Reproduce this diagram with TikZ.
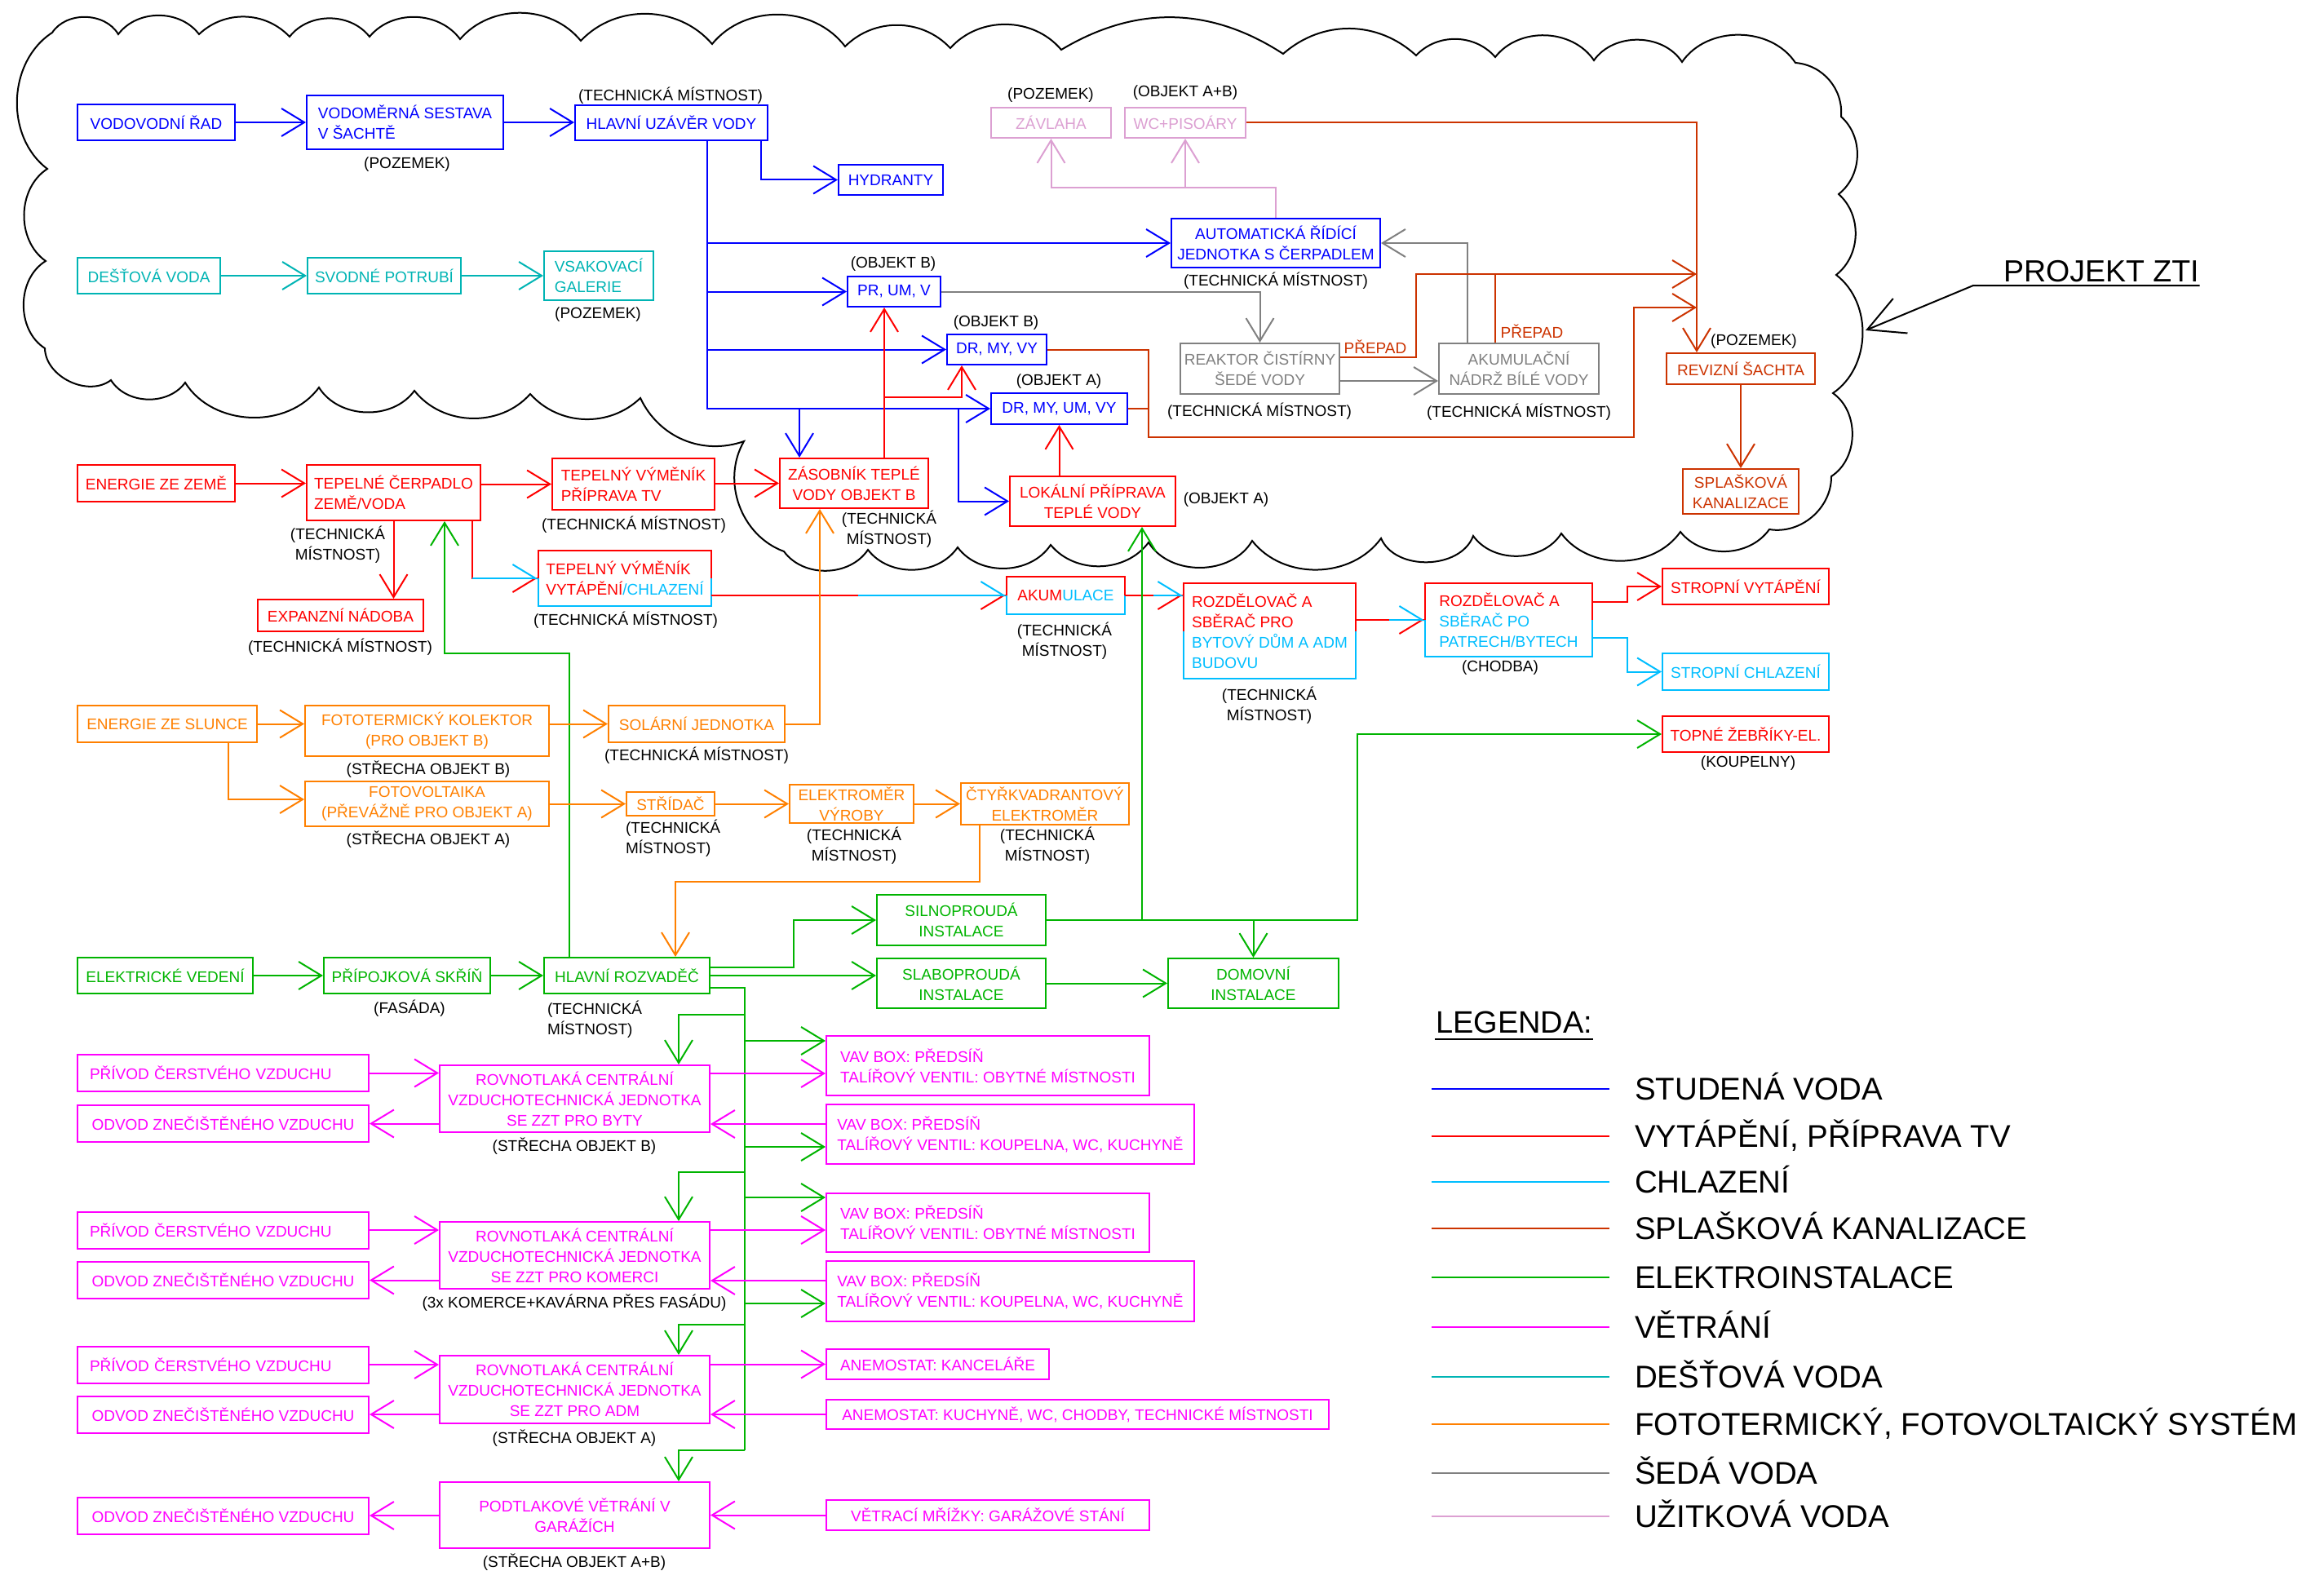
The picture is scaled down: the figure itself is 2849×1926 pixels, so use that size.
\documentclass[tikz,border=0pt]{standalone}
\usepackage{fontspec}
\setmainfont{Liberation Sans}
\usepackage{xcolor}
\usepackage{tikz}
\usetikzlibrary{positioning,arrows.meta}

\definecolor{cBlue}{RGB}{0,0,255}
\definecolor{cRed}{RGB}{255,0,0}
\definecolor{cCyan}{RGB}{0,190,255}
\definecolor{cSew}{RGB}{204,51,0}
\definecolor{cGreen}{RGB}{0,180,0}
\definecolor{cMag}{RGB}{255,0,255}
\definecolor{cRain}{RGB}{0,180,180}
\definecolor{cOrange}{RGB}{255,128,0}
\definecolor{cGray}{RGB}{128,128,128}
\definecolor{cLav}{RGB}{220,160,210}

\begin{document}
\begin{tikzpicture}[x=1pt, y=-1pt, line width=2pt,
  >={Straight Barb[length=28pt,width=34pt]},
  box/.style={draw, rectangle, inner xsep=4pt, inner ysep=1pt, align=center, font=\fontsize{19}{25}\selectfont},
  lbox/.style={box, align=left},
  lbl/.style={inner sep=0pt, align=center, font=\fontsize{19}{25}\selectfont},
  upper/.style={-{Straight Barb[length=28pt,width=34pt,left]}},
  lower/.style={-{Straight Barb[length=28pt,width=34pt,right]}},
  big/.style={inner sep=0pt, font=\fontsize{38.5}{44}\selectfont}]

\fill[white] (0,0) rectangle (2849,1926);
\useasboundingbox (0,0) rectangle (2849,1926);

% oblak
\draw[black] (64,40) to[bend left=58] (145,42) to[bend left=53] (244,42)
  to[bend left=45] (355,45) to[bend left=52] (453,45) to[bend left=52] (564,48)
  to[bend left=50] (712,50) to[bend left=48] (873,54) to[bend left=52] (1036,57)
  to[bend left=46] (1165,59) to[bend left=49] (1301,61) to[bend left=32] (1573,66)
  to[bend left=42] (1736,68) to[bend left=48] (1833,70) to[bend left=54] (1954,74)
  to[bend left=56] (2062,76) to[bend left=56] (2201,77) to[bend left=45] (2257,143)
  to[bend left=50] (2254,238) to[bend left=50] (2251,337) to[bend left=54] (2247,482)
  to[bend left=56] (2245,584) to[bend left=50] (2169,649) to[bend left=53] (2060,652)
  to[bend left=54] (1914,654) to[bend left=56] (1806,657) to[bend left=68] (1693,660)
  to[bend left=53] (1535,663) to[bend left=59] (1408,665) to[bend left=52] (1288,668)
  to[bend left=55] (1174,671) to[bend left=54] (1064,674) to[bend left=55] (961,676)
  to[bend left=50] (912,541) to[bend left=42] (785,488) to[bend left=46] (650,483)
  to[bend left=50] (508,479) to[bend left=56] (391,475) to[bend left=56] (227,469)
  to[bend left=56] (136,466) to[bend left=63] (55,427) to[bend left=58] (56,320)
  to[bend left=56] (58,207) to[bend left=55] (64,40);

% studena voda
\node[box, cBlue, minimum width=193, minimum height=44] (vodrad) at (191.5,150) {VODOVODNÍ ŘAD};
\node[lbox, cBlue, minimum width=241, minimum height=66] (vodomer) at (496.5,150) {VODOMĚRNÁ SESTAVA\\V ŠACHTĚ};
\node[box, cBlue, minimum width=236, minimum height=43] (uzaver) at (823,150.5) {HLAVNÍ UZÁVĚR VODY};
\node[box, cBlue, minimum width=128, minimum height=37] (hydranty) at (1092,220.5) {HYDRANTY};
\node[box, cBlue, minimum width=256, minimum height=60] (automat) at (1564,298) {AUTOMATICKÁ ŘÍDÍCÍ\\JEDNOTKA S ČERPADLEM};
\node[box, cBlue, minimum width=114, minimum height=37] (prumv) at (1096,357.5) {PR, UM, V};
\node[box, cBlue, minimum width=122, minimum height=37] (drmyvyB) at (1222,428.5) {DR, MY, VY};
\node[box, cBlue, minimum width=167, minimum height=38] (drmyumvyA) at (1298.5,501) {DR, MY, UM, VY};

% destova voda
\node[box, cRain, minimum width=175, minimum height=44] (destova) at (182.5,338) {DEŠŤOVÁ VODA};
\node[box, cRain, minimum width=188, minimum height=44] (svodne) at (471,338) {SVODNÉ POTRUBÍ};
\node[lbox, cRain, minimum width=134, minimum height=60] (vsak) at (734,338) {VSAKOVACÍ\\GALERIE};

% uzitkova a seda voda
\node[box, cLav, minimum width=147, minimum height=37] (zavlaha) at (1288.5,150.5) {ZÁVLAHA};
\node[box, cLav, minimum width=148, minimum height=37] (wc) at (1453,150.5) {WC+PISOÁRY};
\node[box, cGray, minimum width=195, minimum height=62] (reaktor) at (1544.5,452) {REAKTOR ČISTÍRNY\\ŠEDÉ VODY};
\node[box, cGray, minimum width=196, minimum height=62] (akum) at (1862,452) {AKUMULAČNÍ\\NÁDRŽ BÍLÉ VODY};

% splaskova kanalizace
\node[box, cSew, minimum width=182, minimum height=38] (revizni) at (2134,452) {REVIZNÍ ŠACHTA};
\node[box, cSew, minimum width=142, minimum height=55] (splaskova) at (2134,602.5) {SPLAŠKOVÁ\\KANALIZACE};

% vytapeni
\node[box, cRed, minimum width=182, minimum height=61] (zasobnik) at (1047,592.5) {ZÁSOBNÍK TEPLÉ\\VODY OBJEKT B};
\node[box, cRed, minimum width=203, minimum height=61] (lokalni) at (1339.5,614.5) {LOKÁLNÍ PŘÍPRAVA\\TEPLÉ VODY};
\node[box, cRed, minimum width=193, minimum height=45] (zeme) at (191.5,592.5) {ENERGIE ZE ZEMĚ};
\node[lbox, cRed, minimum width=213, minimum height=68] (cerpadlo) at (482.5,604) {TEPELNÉ ČERPADLO\\ZEMĚ/VODA};
\node[lbox, cRed, minimum width=199, minimum height=63] (vymenikTV) at (776.5,593.5) {TEPELNÝ VÝMĚNÍK\\PŘÍPRAVA TV};
\node[box, cRed, minimum width=203, minimum height=39] (expanzni) at (417.5,754.5) {EXPANZNÍ NÁDOBA};
\node[lbox, cRed, draw=none, minimum width=210, minimum height=66] (vymenikVYT) at (766,709) {TEPELNÝ VÝMĚNÍK\\VYTÁPĚNÍ{\color{cCyan}/CHLAZENÍ}};
\node[box, cRed, draw=none, minimum width=143, minimum height=44] (akumulace) at (1306.5,730) {AKUM{\color{cCyan}ULACE}};
\node[lbox, cRed, draw=none, minimum width=209, minimum height=115] (rozdel1) at (1556.5,773.5) {ROZDĚLOVAČ A\\SBĚRAČ PRO\\{\color{cCyan}BYTOVÝ DŮM A ADM}\\{\color{cCyan}BUDOVU}};
\node[lbox, cRed, draw=none, minimum width=203, minimum height=88] (rozdel2) at (1849.5,760) {ROZDĚLOVAČ A\\{\color{cCyan}SBĚRAČ PO}\\{\color{cCyan}PATRECH/BYTECH}};
\node[box, cRed, minimum width=204, minimum height=44] (stropvyt) at (2140,719) {STROPNÍ VYTÁPĚNÍ};
\node[box, cCyan, minimum width=204, minimum height=45] (stropchl) at (2140,823.5) {STROPNÍ CHLAZENÍ};
\node[box, cRed, minimum width=204, minimum height=44] (zebriky) at (2140,900) {TOPNÉ ŽEBŘÍKY-EL.};

\foreach \n in {vymenikVYT,akumulace,rozdel1,rozdel2} {
  \draw[cRed] (\n.west) |- (\n.north east) -- (\n.east);
  \draw[cCyan] (\n.west) |- (\n.south east) -- (\n.east);
}

% fototermicky, fotovoltaicky system
\node[box, cOrange, minimum width=220, minimum height=45] (slunce) at (205,887.5) {ENERGIE ZE SLUNCE};
\node[box, cOrange, minimum width=299, minimum height=62] (fototerm) at (523.5,896) {FOTOTERMICKÝ KOLEKTOR\\(PRO OBJEKT B)};
\node[box, cOrange, minimum width=299, minimum height=55] (fotovolt) at (523.5,985.5) {FOTOVOLTAIKA\\(PŘEVÁŽNĚ PRO OBJEKT A)};
\node[box, cOrange, minimum width=216, minimum height=45] (solarni) at (854,887.5) {SOLÁRNÍ JEDNOTKA};
\node[box, cOrange, minimum width=108, minimum height=29] (stridac) at (822,985.5) {STŘÍDAČ};
\node[box, cOrange, minimum width=152, minimum height=47] (elvyroby) at (1044,985.5) {ELEKTROMĚR\\VÝROBY};
\node[box, cOrange, minimum width=206, minimum height=51] (ctyrkv) at (1281,985.5) {ČTYŘKVADRANTOVÝ\\ELEKTROMĚR};

% elektro
\node[box, cGreen, minimum width=215, minimum height=44] (vedeni) at (202.5,1196) {ELEKTRICKÉ VEDENÍ};
\node[box, cGreen, minimum width=204, minimum height=44] (pripojka) at (499,1196) {PŘÍPOJKOVÁ SKŘÍŇ};
\node[box, cGreen, minimum width=203, minimum height=44] (rozvadec) at (768.5,1196) {HLAVNÍ ROZVADĚČ};
\node[box, cGreen, minimum width=207, minimum height=62] (silno) at (1178.5,1128) {SILNOPROUDÁ\\INSTALACE};
\node[box, cGreen, minimum width=207, minimum height=61] (slabo) at (1178.5,1205.5) {SLABOPROUDÁ\\INSTALACE};
\node[box, cGreen, minimum width=209, minimum height=61] (domovni) at (1536.5,1205.5) {DOMOVNÍ\\INSTALACE};

% vetrani
\foreach \y [count=\i] in {1315.5,1508,1673}
  \node[lbox, cMag, inner xsep=15pt, text width=327, minimum height=45] (privod-\i) at (273.5,\y) {PŘÍVOD ČERSTVÉHO VZDUCHU};
\foreach \y [count=\i] in {1377.5,1569.5,1734,1858}
  \node[box, cMag, minimum width=357, minimum height=45] (odvod-\i) at (273.5,\y) {ODVOD ZNEČIŠTĚNÉHO VZDUCHU};
\node[box, cMag, minimum width=331, minimum height=82] (vzt-1) at (704.5,1347) {ROVNOTLAKÁ CENTRÁLNÍ\\VZDUCHOTECHNICKÁ JEDNOTKA\\SE ZZT PRO BYTY};
\node[box, cMag, minimum width=331, minimum height=82] (vzt-2) at (704.5,1539) {ROVNOTLAKÁ CENTRÁLNÍ\\VZDUCHOTECHNICKÁ JEDNOTKA\\SE ZZT PRO KOMERCI};
\node[box, cMag, minimum width=331, minimum height=83] (vzt-3) at (704.5,1703.5) {ROVNOTLAKÁ CENTRÁLNÍ\\VZDUCHOTECHNICKÁ JEDNOTKA\\SE ZZT PRO ADM};
\node[box, cMag, minimum width=331, minimum height=81] (podtlak) at (704.5,1857.5) {PODTLAKOVÉ VĚTRÁNÍ V\\GARÁŽÍCH};
\node[lbox, cMag, minimum width=396, minimum height=73] (vav-1) at (1211,1306.5) {VAV BOX: PŘEDSÍŇ\\TALÍŘOVÝ VENTIL: OBYTNÉ MÍSTNOSTI};
\node[lbox, cMag, minimum width=451, minimum height=73] (vav-2) at (1238.5,1390.5) {VAV BOX: PŘEDSÍŇ\\TALÍŘOVÝ VENTIL: KOUPELNA, WC, KUCHYNĚ};
\node[lbox, cMag, minimum width=396, minimum height=72] (vav-3) at (1211,1499) {VAV BOX: PŘEDSÍŇ\\TALÍŘOVÝ VENTIL: OBYTNÉ MÍSTNOSTI};
\node[lbox, cMag, minimum width=451, minimum height=74] (vav-4) at (1238.5,1583) {VAV BOX: PŘEDSÍŇ\\TALÍŘOVÝ VENTIL: KOUPELNA, WC, KUCHYNĚ};
\node[box, cMag, minimum width=273, minimum height=37] (anemkanc) at (1149.5,1672.5) {ANEMOSTAT: KANCELÁŘE};
\node[box, cMag, minimum width=616, minimum height=36] (anemkuch) at (1321,1734) {ANEMOSTAT: KUCHYNĚ, WC, CHODBY, TECHNICKÉ MÍSTNOSTI};
\node[box, cMag, minimum width=396, minimum height=37] (vetraci) at (1211,1857.5) {VĚTRACÍ MŘÍŽKY: GARÁŽOVÉ STÁNÍ};

% popisky umisteni
\node[lbl] (l-vodomer) at (499,202) {(POZEMEK)};
\node[lbl] (l-uzaver) at (822,117) {(TECHNICKÁ MÍSTNOST)};
\node[lbl] (l-vsak) at (733,386) {(POZEMEK)};
\node[lbl] (l-zavlaha) at (1288,117) {(POZEMEK)};
\node[lbl] (l-wc) at (1453,114) {(OBJEKT A+B)};
\node[lbl] (l-automat) at (1564,344) {(TECHNICKÁ MÍSTNOST)};
\node[lbl] (l-prumv) at (1095,324) {(OBJEKT B)};
\node[lbl] (l-drmyvyB) at (1221,396) {(OBJEKT B)};
\node[lbl] (l-drmyumvyA) at (1298,468) {(OBJEKT A)};
\node[lbl] (l-reaktor) at (1544,504) {(TECHNICKÁ MÍSTNOST)};
\node[lbl] (l-akum) at (1862,505) {(TECHNICKÁ MÍSTNOST)};
\node[lbl, cSew] (l-prepad1) at (1686,425) {PŘEPAD};
\node[lbl, cSew] (l-prepad2) at (1878,406) {PŘEPAD};
\node[lbl] (l-revizni) at (2150,419) {(POZEMEK)};
\node[lbl] (l-zasobnik) at (1090,649) {(TECHNICKÁ\\MÍSTNOST)};
\node[lbl] (l-lokalni) at (1503,613) {(OBJEKT A)};
\node[lbl] (l-cerpadlo) at (414,668) {(TECHNICKÁ\\MÍSTNOST)};
\node[lbl] (l-vymenikTV) at (777,643) {(TECHNICKÁ MÍSTNOST)};
\node[lbl] (l-expanzni) at (417,793) {(TECHNICKÁ MÍSTNOST)};
\node[lbl] (l-vymenikVYT) at (767,760) {(TECHNICKÁ MÍSTNOST)};
\node[lbl] (l-akumulace) at (1305,786) {(TECHNICKÁ\\MÍSTNOST)};
\node[lbl] (l-rozdel1) at (1556,865) {(TECHNICKÁ\\MÍSTNOST)};
\node[lbl] (l-rozdel2) at (1839,819) {(CHODBA)};
\node[lbl] (l-zebriky) at (2143,936) {(KOUPELNY)};
\node[lbl] (l-fototerm) at (525,943) {(STŘECHA OBJEKT B)};
\node[lbl] (l-fotovolt) at (525,1029) {(STŘECHA OBJEKT A)};
\node[lbl] (l-solarni) at (854,926) {(TECHNICKÁ MÍSTNOST)};
\node[lbl, align=left, anchor=west] (l-stridac) at (766,1028) {(TECHNICKÁ\\MÍSTNOST)};
\node[lbl] (l-elvyroby) at (1047,1037) {(TECHNICKÁ\\MÍSTNOST)};
\node[lbl] (l-ctyrkv) at (1284,1037) {(TECHNICKÁ\\MÍSTNOST)};
\node[lbl] (l-pripojka) at (502,1236) {(FASÁDA)};
\node[lbl, align=left, anchor=west] (l-rozvadec) at (670,1250) {(TECHNICKÁ\\MÍSTNOST)};
\node[lbl] (l-vzt1) at (704,1405) {(STŘECHA OBJEKT B)};
\node[lbl] (l-vzt2) at (704,1597) {(3x KOMERCE+KAVÁRNA PŘES FASÁDU)};
\node[lbl] (l-vzt3) at (704,1763) {(STŘECHA OBJEKT A)};
\node[lbl] (l-podtlak) at (704,1915) {(STŘECHA OBJEKT A+B)};

% studena voda - rozvody
\draw[cBlue,->] (vodrad) -- (vodomer);
\draw[cBlue,->] (vodomer.east) -- (uzaver.west |- vodomer.east);
\draw[cBlue,->] (uzaver.south -| 933,0) |- (hydranty.west);
\foreach \t in {automat,prumv,drmyvyB,drmyumvyA}
  \draw[cBlue,->] (uzaver.south -| 867,0) |- (\t.west);
\draw[cBlue,->] (drmyumvyA.west -| 980,0) -- (zasobnik.north -| 980,0);
\draw[cBlue,->] (drmyumvyA.west -| 1175,0) |- (lokalni.west);

% tepla voda
\draw[cRed,->] (zasobnik.north -| 1084,0) -- (prumv.south -| 1084,0);
\draw[cRed,->] (zasobnik.north -| 1084,0) |- (1179,487) -- (drmyvyB.south -| 1179,0);
\draw[cRed,->] (drmyumvyA.south |- lokalni.north) -- (drmyumvyA.south);

% seda a uzitkova voda
\draw[cGray,->] (prumv.east) -| (reaktor.north);
\draw[cGray,->] (reaktor.east |- 0,467) -- (akum.west |- 0,467);
\draw[cGray,->] (akum.north -| 1799,0) |- (automat.east);
\draw[cLav,->] (automat.north) |- (zavlaha.south |- 0,230) -- (zavlaha.south);
\draw[cLav,->] (wc.south |- 0,230) -- (wc.south);

% splaskova kanalizace
\draw[cSew,->] (wc.east) -| (revizni.north -| 2080,0);
\draw[cSew,->] (reaktor.east |- 0,438) -- (1736,438) |- (2080,336);
\draw[cSew] (akum.north -| 1833,0) -- (1833,336);
\draw[cSew,->] (drmyvyB.east) -| (1408,536) -| (2003,377) -- (2080,377);
\draw[cSew] (drmyumvyA.east) -- (1408,501);
\draw[cSew,->] (revizni) -- (splaskova);

% destova voda
\draw[cRain,->] (destova) -- (svodne);
\draw[cRain,->] (svodne) -- (vsak);

% vytapeni, chlazeni
\draw[cRed,->] (zeme.east) -- (cerpadlo.west |- zeme.east);
\draw[cRed,->] (cerpadlo.east |- vymenikTV.west) -- (vymenikTV.west);
\draw[cRed,->] (vymenikTV.east |- zasobnik.west) -- (zasobnik.west);
\draw[cRed,->] (cerpadlo.south) -- (cerpadlo.south |- expanzni.north);
\draw[cRed,lower] (cerpadlo.south -| 579,0) |- (vymenikVYT.west);
\draw[cCyan,upper] (vymenikVYT.west -| 579,0) -- (vymenikVYT.west);
\draw[cRed,lower] (vymenikVYT.east |- akumulace.west) -- (akumulace.west);
\draw[cCyan,upper] (akumulace.west -| 1052,0) -- (akumulace.west);
\draw[cRed,lower] (akumulace.east) -- (rozdel1.west |- akumulace.east);
\draw[cCyan,upper] (akumulace.east -| 1414,0) -- (rozdel1.west |- akumulace.east);
\draw[cRed,lower] (rozdel1.east |- rozdel2.west) -- (rozdel2.west);
\draw[cCyan,upper] (rozdel2.west -| 1703,0) -- (rozdel2.west);
\draw[cRed,->] (rozdel2.east |- 0,738) -| (1995,719) -- (stropvyt.west);
\draw[cCyan,->] (rozdel2.east |- 0,782) -| (1995,823.5) -- (stropchl.west);

% elektro
\draw[cGreen,->] (vedeni) -- (pripojka);
\draw[cGreen,->] (pripojka) -- (rozvadec);
\draw[cGreen,->] (rozvadec.north -| 698,0) |- (545,801) -- (cerpadlo.south -| 545,0);
\draw[cGreen,->] (rozvadec.east |- 0,1186) -| (973,1128) -- (silno.west);
\draw[cGreen,->] (rozvadec.east) -- (slabo.west |- rozvadec.east);
\draw[cGreen,->] (slabo.east) -- (domovni.west);
\draw[cGreen,->] (silno.east) -| (1664,900) -- (zebriky.west);
\draw[cGreen,->] (silno.east -| 1400,0) -- (lokalni.south -| 1400,0);
\draw[cGreen,->] (silno.east -| domovni.north) -- (domovni.north);
\coordinate (bus) at (913,1211);
\draw[cGreen] (rozvadec.east |- bus) -- (bus) -- (913,1778);
\foreach \t/\y in {vzt-1/1244,vzt-2/1437,vzt-3/1624,podtlak/1778}
  \draw[cGreen,->] (bus |- 0,\y) -| (\t.north -| 832,0);
\foreach \t/\y in {vav-1/1276,vav-2/1406,vav-3/1468,vav-4/1598}
  \draw[cGreen,->] (bus |- 0,\y) -- (\t.west |- 0,\y);

% vetrani
\foreach \i in {1,2,3} {
  \draw[cMag,->] (privod-\i.east) -- (vzt-\i.west |- privod-\i.east);
  \draw[cMag,->] (vzt-\i.west |- odvod-\i.east) -- (odvod-\i.east);
}
\draw[cMag,->] (podtlak.west |- odvod-4.east) -- (odvod-4.east);
\draw[cMag,->] (vzt-1.east |- 0,1316) -- (vav-1.west |- 0,1316);
\draw[cMag,->] (vav-2.west |- 0,1378) -- (vzt-1.east |- 0,1378);
\draw[cMag,->] (vzt-2.east |- 0,1508) -- (vav-3.west |- 0,1508);
\draw[cMag,->] (vav-4.west |- 0,1570) -- (vzt-2.east |- 0,1570);
\draw[cMag,->] (vzt-3.east |- anemkanc.west) -- (anemkanc.west);
\draw[cMag,->] (anemkuch.west) -- (vzt-3.east |- anemkuch.west);
\draw[cMag,->] (vetraci.west) -- (podtlak.east |- vetraci.west);

% solar
\draw[cOrange,->] (slunce.east) -- (fototerm.west |- slunce.east);
\draw[cOrange,->] (slunce.south -| 280,0) |- (fotovolt.west |- 0,980);
\draw[cOrange,->] (fototerm.east |- solarni.west) -- (solarni.west);
\draw[cOrange,->] (solarni.east) -| (zasobnik.south -| 1005,0);
\draw[cOrange,->] (fotovolt.east |- stridac.west) -- (stridac.west);
\draw[cOrange,->] (stridac) -- (elvyroby);
\draw[cOrange,->] (elvyroby) -- (ctyrkv);
\draw[cOrange,->] (ctyrkv.south -| 1201,0) |- (828,1081) -- (rozvadec.north -| 828,0);

% projekt
\node[big, font=\fontsize{37.5}{44}\selectfont, anchor=base west] (projekt) at (2455,345) {PROJEKT ZTI};
\coordinate (cloudtip) at (2287,405);
\draw[-{Straight Barb[length=44pt,width=46pt]}] (projekt.base east |- 0,350) -- (2419,350) -- (cloudtip);

% legenda
\node[big, font=\fontsize{38}{44}\selectfont, anchor=base west] (legenda) at (1759,1266) {LEGENDA:};
\draw[line width=2.5pt] (legenda.base west |- 0,1274) -- (legenda.base east |- 0,1274);
\foreach \y/\c/\t [count=\i] in {1335/cBlue/STUDENÁ VODA, {1393/cRed/VYTÁPĚNÍ, PŘÍPRAVA TV}, 1449/cCyan/CHLAZENÍ, 1506/cSew/SPLAŠKOVÁ KANALIZACE, 1566/cGreen/ELEKTROINSTALACE, 1627/cMag/VĚTRÁNÍ, 1688/cRain/DEŠŤOVÁ VODA, {1746/cOrange/FOTOTERMICKÝ, FOTOVOLTAICKÝ SYSTÉM}, 1806/cGray/ŠEDÁ VODA, 1859/cLav/UŽITKOVÁ VODA} {
  \node[big, anchor=base west] (leg-\i) at (2003,\y+13) {\t};
  \draw[\c, line width=2.5pt] (leg-\i.base west) ++(-248,-13) -- ++(218,0);
}

\end{tikzpicture}
\end{document}
